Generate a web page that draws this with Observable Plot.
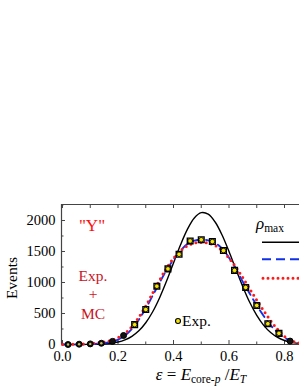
<!DOCTYPE html>
<html><head><meta charset="utf-8">
<script src="https://cdn.jsdelivr.net/npm/d3@7"></script>
<script src="https://cdn.jsdelivr.net/npm/@observablehq/plot@0.6"></script>
<style>
html,body{margin:0;padding:0;background:#fff;}
#chart{width:299px;height:387px;overflow:hidden;}
#chart svg text{font-family:'Liberation Serif','Times New Roman',serif;}
</style></head><body><div id="chart"></div>
<script>
// Experimental points
const expX = [0.02,0.06,0.10,0.14,0.18,0.22,0.26,0.30,0.34,0.38,0.42,0.46,0.50,0.54,0.58,0.62,0.66,0.70,0.74,0.78,0.82];
const expY = [0,5,10,20,50,145,320,565,940,1220,1455,1670,1690,1660,1515,1195,920,630,335,180,55];
// Curves
const curveX = [0,0.025,0.05,0.075,0.1,0.125,0.15,0.175,0.2,0.225,0.25,0.275,0.3,0.325,0.35,0.375,0.4,0.425,0.45,0.475,0.5,0.525,0.55,0.575,0.6,0.625,0.65,0.675,0.7,0.725,0.75,0.775,0.8,0.825,0.85,0.875];
const rhoMaxY = [0,0,0,1,2,5,10,21,40,75,132,221,351,528,755,1023,1315,1605,1857,2040,2126,2102,1976,1766,1499,1210,929,677,470,309,194,115,65,35,18,8];
const mcY = [0,1,2,4,8,14,25,45,80,145,250,400,580,790,1000,1200,1370,1510,1620,1675,1690,1680,1640,1550,1400,1220,1010,820,630,460,310,195,110,55,25,10];
const expMcY = [0,2,5,9,15,25,40,65,110,180,290,440,620,830,1040,1230,1390,1510,1590,1635,1645,1635,1595,1515,1395,1245,1075,895,715,545,385,245,130,60,25,10];
// Ticks
const xTicks = [0,0.2,0.4,0.6,0.8];
const xMinor = [0.1,0.3,0.5,0.7];
const yTicks = [0,500,1000,1500,2000];
const yMinor = [250,750,1250,1750,2250];

const xDomain = [-0.0036, 0.854];
const yDomain = [0, 2258];

const pts = expX.map((x,i)=>({x, y: expY[i]}));
const curves = curveX.map((x,i)=>({x, rho: rhoMaxY[i], mc: mcY[i], emc: expMcY[i]}));
const sq = pts.filter(d=>d.y >= 150);
const lo = pts.filter(d=>d.y < 150);
const axisColor = "#444";
const blank = () => "";

const plot = Plot.plot({
  width: 299, height: 387,
  marginTop: 204, marginLeft: 61, marginRight: 0, marginBottom: 43,
  style: {fontFamily: "'Liberation Serif', 'Times New Roman', serif", fontSize: "14.5px", background: "#fff", color: "#000"},
  x: {domain: xDomain},
  y: {domain: yDomain},
  marks: [
    Plot.axisX({ticks: xTicks, tickFormat: d3.format(".1f"), tickSize: 0, tickPadding: 6, label: null, fontSize: 14.5}),
    Plot.axisY({ticks: yTicks, tickFormat: d => String(d), tickSize: 0, tickPadding: 6, label: null, fontSize: 14.5}),
    Plot.axisX({anchor: "bottom", ticks: xTicks, tickSize: 4, dy: -4, tickFormat: blank, label: null, stroke: axisColor}),
    Plot.axisX({anchor: "bottom", ticks: xMinor, tickSize: 2.5, dy: -2.5, tickFormat: blank, label: null, stroke: axisColor}),
    Plot.axisX({anchor: "top", ticks: xTicks, tickSize: 3, dy: 3, tickFormat: blank, label: null, stroke: axisColor}),
    Plot.axisX({anchor: "top", ticks: xMinor, tickSize: 3, dy: 3, tickFormat: blank, label: null, stroke: axisColor}),
    Plot.axisY({anchor: "left", ticks: yTicks, tickSize: 4, dx: 4, tickFormat: blank, label: null, stroke: axisColor}),
    Plot.axisY({anchor: "left", ticks: yMinor.filter(v=>v<yDomain[1]), tickSize: 2.5, dx: 2.5, tickFormat: blank, label: null, stroke: axisColor}),
    Plot.ruleX([xDomain[0]], {stroke: axisColor, strokeWidth: 1.2}),
    Plot.ruleY([yDomain[0], yDomain[1]], {stroke: axisColor, strokeWidth: 1.2}),
    Plot.line(curves, {x: "x", y: "rho", stroke: "#000", strokeWidth: 1.4, curve: "catmull-rom"}),
    Plot.line(curves, {x: "x", y: "mc", stroke: "#1030e8", strokeWidth: 1.9, strokeDasharray: "8 5", curve: "catmull-rom"}),
    Plot.line(curves, {x: "x", y: "emc", stroke: "#ff1a1a", strokeWidth: 3, strokeDasharray: "0 5.2", strokeLinecap: "round", curve: "catmull-rom"}),
    Plot.dot(sq, {x: "x", y: "y", symbol: "square", r: 3.2, stroke: "#000", strokeWidth: 1.4, fill: "none"}),
    Plot.dot(sq, {x: "x", y: "y", r: 2.3, fill: "#f5e400", stroke: "#000", strokeWidth: 0.8}),
    Plot.dot(lo, {x: "x", y: "y", r: 3, fill: "#111", stroke: "#000", strokeWidth: 1}),
    Plot.dot(lo.filter(d=>d.y < 30), {x: "x", y: "y", r: 1.2, fill: "#c8c060"})
  ]
});

const host = document.getElementById("chart");
host.appendChild(plot);
const svg = d3.select(plot);
const serif = "'Liberation Serif', 'Times New Roman', serif";

svg.append("text").attr("x", 92).attr("y", 231).attr("text-anchor", "middle")
  .attr("font-family", serif).attr("font-size", 17).attr("fill", "#ff1010").text('"Y"');
const red2 = "#c8141e";
[["Exp.", 281], ["+", 299], ["MC", 319]].forEach(([t, y]) => {
  svg.append("text").attr("x", 93).attr("y", y).attr("text-anchor", "middle")
    .attr("font-family", serif).attr("font-size", 15.5).attr("fill", red2).text(t);
});

const lg = svg.append("g").attr("font-family", serif);
const rt = lg.append("text").attr("x", 270).attr("y", 229).attr("font-size", 17);
rt.append("tspan").attr("font-style", "italic").text("ρ");
rt.append("tspan").attr("font-size", 11.5).attr("dy", 3).text("max");
lg.append("line").attr("x1", 262).attr("x2", 300).attr("y1", 242.3).attr("y2", 242.3).attr("stroke", "#000").attr("stroke-width", 1.4);
lg.append("line").attr("x1", 262).attr("x2", 300).attr("y1", 259.3).attr("y2", 259.3).attr("stroke", "#1030e8").attr("stroke-width", 1.9).attr("stroke-dasharray", "9 5");
lg.append("line").attr("x1", 263).attr("x2", 300).attr("y1", 278.3).attr("y2", 278.3).attr("stroke", "#ff1a1a").attr("stroke-width", 3).attr("stroke-dasharray", "0 5").attr("stroke-linecap", "round");
lg.append("circle").attr("cx", 178).attr("cy", 321).attr("r", 2.5).attr("fill", "#f5e400").attr("stroke", "#000").attr("stroke-width", 1.1);
lg.append("text").attr("x", 196.5).attr("y", 326).attr("font-size", 15.5).attr("fill", "#000").text("Exp.");

svg.append("text").attr("transform", "translate(17,278) rotate(-90)").attr("text-anchor", "middle")
  .attr("font-family", serif).attr("font-size", 15.5).attr("fill", "#000").text("Events");

const xl = svg.append("text").attr("x", 201).attr("y", 380).attr("text-anchor", "middle")
  .attr("font-family", serif).attr("font-size", 17).attr("fill", "#000");
xl.append("tspan").attr("font-style", "italic").text("ε");
xl.append("tspan").text(" = ");
xl.append("tspan").attr("font-style", "italic").text("E");
xl.append("tspan").attr("font-size", 11.5).attr("dy", 3).text("core-");
xl.append("tspan").attr("font-size", 11.5).attr("font-style", "italic").text("p");
xl.append("tspan").attr("dy", -3).text(" /");
xl.append("tspan").attr("font-style", "italic").text("E");
xl.append("tspan").attr("font-size", 11.5).attr("font-style", "italic").attr("dy", 3).text("T");
</script></body></html>
